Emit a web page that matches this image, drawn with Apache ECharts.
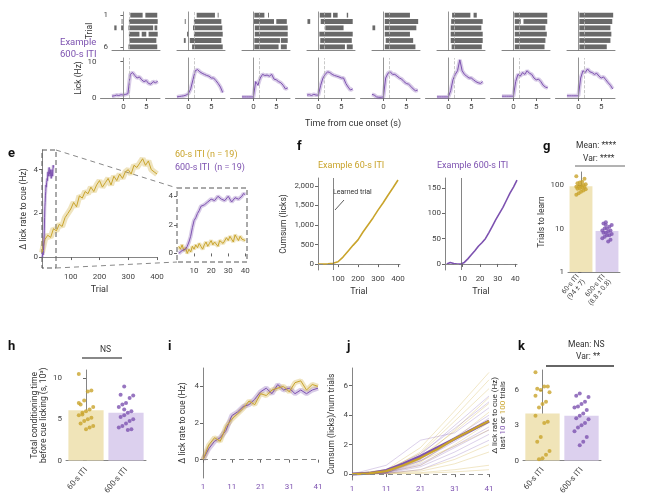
<!DOCTYPE html>
<html><head><meta charset="utf-8">
<script src="https://cdn.jsdelivr.net/npm/echarts@6/dist/echarts.min.js"></script>
<style>html,body{margin:0;background:#fff}#c{width:649px;height:497px}</style>
</head><body><div id="c"></div>
<script>
var GOLD = '#c9a42c', PURP = '#7d52b0', LGOLD = '#f0e4b8', LPURP = '#dcd0ee';

// top row: lick rasters (segments [start, end] per trial row) and mean lick rate
var rasterData = [
  [[[1.5,4.2],[4.8,7.4]], [[-0.4,-0.2],[1.2,7.5]], [[-2,-1.5],[-0.5,0],[1.1,6.5],[6.8,7.4]], [[1.2,3.5],[4,5],[5.5,7.5]], [[1.3,7.2]], [[1.1,7.4]]],
  [[[1.8,5.8],[6.4,6.6]], [[-0.8,-0.6],[1.2,7.2]], [[1,7.4]], [[-0.3,0],[1.2,7.5]], [[-1,-0.6],[0.3,7.2]], [[0.8,7.5]]],
  [[[0.2,2.4],[3.2,3.4]], [[0.1,4.5],[5,7.3]], [[0.3,7.5]], [[0.3,7.5]], [[0.2,5.8],[6,7.5]], [[0.2,5.5],[6,7.3]]],
  [[[0.3,2.8],[3.2,4.2],[6.2,6.5]], [[-2.4,-1.8],[0.5,7.5]], [[1.5,5.5]], [[0.2,7.5]], [[0.4,7.3]], [[0.3,5.8],[6.2,7.5]]],
  [[[0.3,5.8]], [[0.3,7.6]], [[-2.4,-1.8],[0.3,7.2]], [[0.3,5.8]], [[0.5,6.5]], [[0.3,7.0]]],
  [[[0.8,4.8],[5.5,6.2]], [[0.6,7.5]], [[0.5,7.2]], [[0.5,7.5]], [[0.5,7.5]], [[0.7,7.3]]],
  [[[0.2,7.4]], [[0.3,1.6],[2.2,7.4]], [[0.3,7.0]], [[0.3,7.3]], [[0.3,7.0]], [[0.3,6.8]]],
  [[[0.2,7.6]], [[0.2,7.4]], [[0.2,7.0]], [[0.2,7.2]], [[0.2,7.0]], [[0.2,6.2]]]
];
var lickTime = [-2.5,-2,-1.5,-1,-0.5,0,0.5,1,1.5,2,2.5,3,3.5,4,4.5,5,5.5,6,6.5,7,7.5];
var lickRates = [
  [0.5,0.6,0.8,0.7,0.9,0.8,1.0,1.2,6.5,7.0,6.2,5.5,5.8,5.0,4.5,4.8,4.0,3.8,4.5,4.2,4.6],
  [0.3,0.4,0.5,0.6,0.8,1.2,2.5,5.0,7.5,7.8,7.2,6.8,6.5,6.2,6.0,5.5,5.5,4.8,4.0,3.0,1.5],
  [0.3,0.3,0.3,0.3,0.3,0.3,4.5,3.5,5.5,6.5,6.2,6.3,6.0,6.5,5.2,5.0,4.5,4.2,3.5,2.5,2.8],
  [0.8,0.9,0.7,1.0,0.8,0.8,3.5,5.5,6.5,7.2,7.0,6.5,6.2,6.0,5.8,5.5,5.5,4.0,3.0,2.2,2.5],
  [1.0,0.8,0.3,0.2,0.2,0.3,5.5,6.8,7.2,6.5,6.5,6.0,5.5,5.2,4.5,4.0,3.8,3.2,2.5,2.0,2.2],
  [0.3,0.3,0.3,0.3,0.3,0.3,2.0,5.0,6.5,7.5,10.5,7.5,6.5,6.0,5.5,5.5,5.0,4.5,4.2,4.0,4.5],
  [0.5,0.5,0.5,0.5,0.5,0.5,4.5,6.5,6.0,7.0,6.5,7.5,6.8,6.5,5.5,5.0,5.2,4.5,3.5,3.0,2.8],
  [0.6,0.6,0.6,0.6,0.6,0.6,5.5,7.5,7.0,8.0,7.2,7.0,6.5,6.8,6.0,5.5,5.8,5.0,4.2,3.5,2.5]
];

// e: lick rate across training
var eTrials = [0,10,20,30,40,50,60,70,80,90,100,110,120,130,140,150,160,170,180,190,200,210,220,230,240,250,260,270,280,290,300,310,320,330,340,350,360,370,380,390,400];
var eGold = [0.2,0.8,1.0,0.9,1.3,1.2,1.5,1.4,1.8,2.0,2.2,2.5,2.3,2.8,2.7,3.0,2.9,3.2,3.0,3.3,3.5,3.2,3.4,3.6,3.3,3.7,3.5,3.8,3.6,3.9,4.0,3.8,4.2,4.1,4.3,4.5,4.2,4.4,4.0,3.9,3.8];
var insetTrials = [1,2,3,4,5,6,7,8,9,10,11,12,13,14,15,16,17,18,19,20,21,22,23,24,25,26,27,28,29,30,31,32,33,34,35,36,37,38,39,40];
var insetPurp = [0,0.1,0.2,0.1,0.3,0.5,0.8,1.2,1.8,2.3,2.5,2.8,3.0,3.3,3.2,3.4,3.5,3.6,3.5,3.8,3.9,3.7,3.8,4.0,4.1,3.8,3.9,3.7,3.8,4.0,3.9,3.6,3.7,3.9,4.0,3.8,3.7,4.0,4.2,4.1];
var insetGold = [0.5,0.3,0.6,0.2,0.4,0.0,0.3,0.1,0.5,0.3,0.6,0.4,0.7,0.5,0.3,0.6,0.8,0.5,0.7,0.9,0.6,0.8,0.7,0.5,0.9,1.0,0.7,0.8,1.1,0.9,1.2,1.0,0.8,1.3,1.1,0.9,1.2,1.0,1.1,0.9];

// f: example cumulative licks
var f1Trials = [0,25,50,75,100,125,150,175,200,225,250,275,300,325,350,375,400];
var f1Cum = [0,5,10,20,60,180,330,480,620,820,1000,1180,1380,1560,1760,1950,2150];
var f2Trials = [1,3,5,7,9,11,13,15,17,19,21,23,25,27,29,31,33,35,37,39,41];
var f2Cum = [0,3,1,0,0,3,10,18,26,35,42,50,62,75,88,100,112,126,140,152,166];

// g, h, k: per-animal values
var groups = ['60-s ITI\n(94 ± 7)', '600-s ITI\n(8.8 ± 0.8)'];
var gMeans = [94, 8.8];
var gGold = [160,140,120,115,110,105,100,98,95,92,90,88,85,82,80,75,70,65,60];
var gPurp = [14,13,12,11,10,10,9,9,8.5,8,8,7.5,7,7,6.5,6,5.5,5,12];
var hMeans = [6.1, 5.8];
var hGold = [10.5,8.5,8.4,7.3,6.8,6.5,6.2,6.0,5.8,5.5,5.2,5.0,4.8,4.5,4.2,4.0,3.8,5.6,7.0];
var hPurp = [9.0,8.0,7.9,7.6,7.0,6.8,6.5,6.0,5.8,5.5,5.3,5.0,4.8,4.5,4.2,4.0,3.8,3.7,6.2];
var kMeans = [4.0, 3.8];
var kGold = [7.5,6.3,6.3,6.0,6.1,5.8,5.0,4.8,4.5,3.8,3.3,3.2,2.0,1.6,0.8,0.5,0.2,0.1,5.5];
var kPurp = [5.7,5.5,5.4,5.0,4.8,4.6,4.5,4.3,4.0,3.8,3.6,3.5,3.2,3.0,2.8,2.5,2.0,1.6,1.3];

// i: lick rate aligned to learned trial
var iTrials = [1,3,5,7,9,11,13,15,17,19,21,23,25,27,29,31,33,35,37,39,41];
var iGold = [0,0.8,1.2,1.0,1.8,2.2,2.5,2.8,3.2,3.0,3.6,3.5,3.8,3.9,4.0,3.7,4.2,4.3,3.8,4.1,4.0];
var iPurp = [0,0.6,1.0,1.2,1.6,2.4,2.6,2.9,3.0,3.3,3.7,3.9,3.6,4.1,3.8,3.9,3.6,3.8,3.6,3.8,3.9];

// j: normalised cumsum, mean and individual animals
var jTrials = [1,6,11,16,21,26,31,36,41];
var jGoldMean = [0,0.05,0.2,0.6,1.1,1.7,2.4,3.0,3.6];
var jPurpMean = [0,0.05,0.25,0.7,1.2,1.8,2.4,3.0,3.6];
var jIndTrials = [1,11,21,31,41];
var jGoldInd = [[0,0.3,1.8,4.3,6.9],[0,0.2,1.5,3.9,6.4],[0,0.3,1.4,3.6,5.8],[0,0.1,1.0,3.0,5.2],[0,0.2,1.2,2.9,4.8],[0,0.1,0.8,2.4,4.2],[0,0.1,0.6,2.0,3.5],[0,0.05,0.3,1.0,2.0],[0,0.05,0.2,0.7,1.5],[0,0.05,0.1,0.3,0.6],[0,0.02,0.05,0.15,0.3],[0,0.2,0.9,1.9,3.0]];
var jPurpInd = [[0,0.2,1.3,3.3,5.3],[0,0.6,2.3,2.8,4.5],[0,0.1,1.0,2.5,4.0],[0,0.1,0.9,2.2,3.6],[0,0.1,0.7,1.9,3.2],[0,0.1,0.6,1.8,3.0],[0,0.05,0.5,1.5,2.7],[0,0.05,0.3,1.2,2.3],[0,0.2,1.4,3.1,4.9],[0,0.1,0.9,2.3,3.8]];

var grids = [], xAxis = [], yAxis = [], series = [];
var lab = {fontSize: 8, color: '#444', fontFamily: 'Roboto'};
var axLine = {lineStyle: {color: '#666', width: 0.8}};
function addGrid(l, t, w, h, xa, ya) {
  var i = grids.length;
  grids.push({left: l, top: t, width: w, height: h});
  xa.gridIndex = i; ya.gridIndex = i;
  xa.axisLine = xa.axisLine || axLine; ya.axisLine = ya.axisLine || axLine;
  xa.axisTick = xa.axisTick || {length: 3, lineStyle: {color: '#666'}};
  ya.axisTick = ya.axisTick || {length: 3, lineStyle: {color: '#666'}};
  xa.axisLabel = Object.assign({}, lab, {margin: 5}, xa.axisLabel || {});
  ya.axisLabel = Object.assign({}, lab, {margin: 4}, ya.axisLabel || {});
  xa.splitLine = {show: false}; ya.splitLine = {show: false};
  xa.nameTextStyle = Object.assign({fontSize: 9, color: '#333'}, xa.nameTextStyle || {});
  ya.nameTextStyle = Object.assign({fontSize: 8.5, color: '#333'}, ya.nameTextStyle || {});
  xAxis.push(xa); yAxis.push(ya);
  return i;
}
function pairs(xs, ys) { return xs.map(function (x, k) { return [x, ys[k]]; }); }
function trace(gi, xs, ys, color, band) {
  series.push({type: 'line', xAxisIndex: gi, yAxisIndex: gi, data: pairs(xs, ys), symbol: 'none',
    lineStyle: {color: color, width: band, opacity: 0.3}, silent: true, z: 2});
  series.push({type: 'line', xAxisIndex: gi, yAxisIndex: gi, data: pairs(xs, ys), symbol: 'none',
    lineStyle: {color: color, width: 1}, silent: true, z: 3});
}
function vline(gi, x, color, type) {
  series.push({type: 'line', xAxisIndex: gi, yAxisIndex: gi, data: [], markLine: {silent: true, symbol: 'none', label: {show: false},
    lineStyle: {color: color, width: 0.8, type: type}, data: [{xAxis: x}]}});
}
function hline(gi, y) {
  series.push({type: 'line', xAxisIndex: gi, yAxisIndex: gi, data: [], markLine: {silent: true, symbol: 'none', label: {show: false},
    lineStyle: {color: '#888', width: 1, type: [5, 4]}, data: [{yAxis: y}]}});
}
function ticks(vals) { return {customValues: vals, length: 3, lineStyle: {color: '#666'}}; }

// top row
for (var p = 0; p < 8; p++) {
  var left = 112 + 65 * p;
  var rg = addGrid(left, 12, 48, 38,
    {type: 'value', min: -2.5, max: 8, axisLabel: {show: false}, axisTick: {show: false}},
    {type: 'value', min: 0.5, max: 6.5, inverse: true, axisLabel: {show: p === 0, customValues: [1, 6]},
     axisTick: p === 0 ? ticks([1, 6]) : {show: false}, name: p === 0 ? 'Trial' : '', nameLocation: 'middle', nameGap: 18});
  var segs = [];
  rasterData[p].forEach(function (row, r) { row.forEach(function (s) { segs.push([s[0], s[1], r + 1]); }); });
  series.push({type: 'custom', xAxisIndex: rg, yAxisIndex: rg, data: segs, silent: true,
    renderItem: function (params, api) {
      var a = api.coord([api.value(0), api.value(2)]), b = api.coord([api.value(1), api.value(2)]);
      return {type: 'rect', shape: {x: a[0], y: a[1] - 2.4, width: b[0] - a[0], height: 4.8}, style: {fill: '#444', opacity: 0.8}};
    }});
  vline(rg, 0, '#999', 'solid'); vline(rg, 1.25, '#bbb', 'dashed');
  var lg = addGrid(left - 11.5, 58, 59.5, 40,
    {type: 'value', min: -5, max: 8, axisLabel: {customValues: [0, 5]}, axisTick: ticks([0, 5])},
    {type: 'value', min: 0, max: 11, interval: 10, axisLabel: {show: p === 0}, axisTick: {show: p === 0, length: 3},
     name: p === 0 ? 'Lick (Hz)' : '', nameLocation: 'middle', nameGap: 16});
  vline(lg, 0, '#999', 'solid'); vline(lg, 1.25, '#bbb', 'dashed');
  trace(lg, lickTime, lickRates[p], PURP, 4);
}

// e main
var eg = addGrid(42, 150, 115, 118,
  {type: 'value', min: 0, max: 400, axisLabel: {customValues: [100, 200, 300, 400]}, axisTick: ticks([100, 200, 300, 400]),
   name: 'Trial', nameLocation: 'middle', nameGap: 17},
  {type: 'value', min: -0.5, max: 4.9, axisLabel: {customValues: [0, 2, 4]}, axisTick: ticks([0, 2, 4]),
   name: 'Δ lick rate to cue (Hz)', nameLocation: 'middle', nameGap: 14});
trace(eg, eTrials, eGold, GOLD, 6);
trace(eg, insetTrials, insetPurp, PURP, 3);
// e inset
var ig = addGrid(177, 182, 70, 80,
  {type: 'value', min: 0, max: 41, axisLine: {show: false}, axisLabel: {customValues: [10, 20, 30, 40]}, axisTick: ticks([10, 20, 30, 40])},
  {type: 'value', min: -0.6, max: 5, axisLine: {show: false}, axisLabel: {customValues: [0, 2, 4]}, axisTick: ticks([0, 2, 4])});
trace(ig, insetTrials, insetGold, GOLD, 4);
trace(ig, insetTrials, insetPurp, PURP, 4);

// f1, f2
var f1 = addGrid(318, 178, 82, 92,
  {type: 'value', min: 0, max: 410, axisLabel: {customValues: [100, 200, 300, 400]}, axisTick: ticks([100, 200, 300, 400]),
   name: 'Trial', nameLocation: 'middle', nameGap: 17},
  {type: 'value', min: -150, max: 2200, name: 'Cumsum (licks)', nameLocation: 'middle', nameGap: 30,
   axisLabel: {customValues: [0, 500, 1000, 1500, 2000], formatter: function (v) { return Number(v).toLocaleString('en-US'); }},
   axisTick: ticks([0, 500, 1000, 1500, 2000])});
hline(f1, 0); vline(f1, 75, '#666', 'solid');
series.push({type: 'line', xAxisIndex: f1, yAxisIndex: f1, data: pairs(f1Trials, f1Cum), symbol: 'none', lineStyle: {color: GOLD, width: 1.6}});
var f2 = addGrid(445, 178, 72, 92,
  {type: 'value', min: 0, max: 41, axisLabel: {customValues: [10, 20, 30, 40]}, axisTick: ticks([10, 20, 30, 40]),
   name: 'Trial', nameLocation: 'middle', nameGap: 17},
  {type: 'value', min: -12, max: 170, axisLabel: {customValues: [0, 50, 100, 150]}, axisTick: ticks([0, 50, 100, 150])});
hline(f2, 0); vline(f2, 9, '#666', 'solid');
series.push({type: 'line', xAxisIndex: f2, yAxisIndex: f2, data: pairs(f2Trials, f2Cum), symbol: 'none', lineStyle: {color: PURP, width: 1.6}});

function jit(i) { return ((i * 7) % 9 - 4) * 0.045; }
function barPanel(gi, means, gold, purp) {
  series.push({type: 'bar', xAxisIndex: gi, yAxisIndex: gi, barWidth: '88%', silent: true,
    data: [{value: [0, means[0]], itemStyle: {color: LGOLD}}, {value: [1, means[1]], itemStyle: {color: LPURP}}]});
  series.push({type: 'scatter', xAxisIndex: gi, yAxisIndex: gi, symbolSize: 4, itemStyle: {color: GOLD},
    data: gold.map(function (v, i) { return [jit(i), v]; })});
  series.push({type: 'scatter', xAxisIndex: gi, yAxisIndex: gi, symbolSize: 4, itemStyle: {color: PURP},
    data: purp.map(function (v, i) { return [1 + jit(i + 3), v]; })});
}
function groupAxis(names, extra) {
  return {type: 'value', min: -0.5, max: 1.5, axisTick: {show: false},
    axisLabel: Object.assign({customValues: [0, 1], rotate: 50, margin: 8, formatter: function (v) { return names[Math.round(v)]; }}, extra || {})};
}

// g
var gg = addGrid(568, 172, 52, 100,
  groupAxis(groups, {fontSize: 7, lineHeight: 8, margin: 6}),
  {type: 'log', min: 1, max: 200, logBase: 10, name: 'Trials to learn', nameLocation: 'middle', nameGap: 18,
   axisLabel: {customValues: [1, 10, 100]}, axisTick: ticks([1, 10, 100])});
barPanel(gg, gMeans, gGold, gPurp);

// h
var hg = addGrid(66, 370, 80, 108,
  groupAxis(['60-s ITI', '600-s ITI']),
  {type: 'value', min: 0, max: 11, axisLabel: {customValues: [0, 5, 10]}, axisTick: ticks([0, 5, 10]),
   name: 'Total conditioning time\nbefore cue licking (s, 10³)', nameLocation: 'middle', nameGap: 18});
barPanel(hg, hMeans, hGold, hPurp);

// i
var ig2 = addGrid(203, 368, 115, 110,
  {type: 'value', min: 1, max: 41, interval: 10, axisLine: {show: false}, axisLabel: {color: PURP}},
  {type: 'value', min: -1, max: 5, name: 'Δ lick rate to cue (Hz)', nameLocation: 'middle', nameGap: 16,
   axisLabel: {customValues: [0, 2, 4]}, axisTick: ticks([0, 2, 4])});
hline(ig2, 0);
trace(ig2, iTrials, iPurp, PURP, 5);
trace(ig2, iTrials, iGold, GOLD, 5);

// j
var jg = addGrid(352, 368, 137, 112,
  {type: 'value', min: 1, max: 41, interval: 10, axisLine: {show: false}, axisLabel: {color: PURP}},
  {type: 'value', min: -0.4, max: 7.2, name: 'Cumsum (licks)/num trials', nameLocation: 'middle', nameGap: 16,
   axisLabel: {customValues: [0, 2, 4, 6]}, axisTick: ticks([0, 2, 4, 6])});
hline(jg, 0);
jGoldInd.forEach(function (ys) { series.push({type: 'line', xAxisIndex: jg, yAxisIndex: jg, data: pairs(jIndTrials, ys), symbol: 'none', silent: true, lineStyle: {color: GOLD, width: 0.6, opacity: 0.45}}); });
jPurpInd.forEach(function (ys) { series.push({type: 'line', xAxisIndex: jg, yAxisIndex: jg, data: pairs(jIndTrials, ys), symbol: 'none', silent: true, lineStyle: {color: PURP, width: 0.6, opacity: 0.45}}); });
series.push({type: 'line', xAxisIndex: jg, yAxisIndex: jg, data: pairs(jTrials, jPurpMean), symbol: 'none', lineStyle: {color: PURP, width: 3}});
series.push({type: 'line', xAxisIndex: jg, yAxisIndex: jg, data: pairs(jTrials, jGoldMean), symbol: 'none', lineStyle: {color: GOLD, width: 2.2}});

// k
var kg = addGrid(523, 370, 78, 108,
  groupAxis(['60-s ITI', '600-s ITI']),
  {type: 'value', min: 0, max: 7.7, axisLabel: {customValues: [0, 3, 6]}, axisTick: ticks([0, 3, 6]),
   name: '{b|Δ lick rate to cue (Hz)}\n{b|last }{p|10}{b| or }{g|100}{b| trials}', nameLocation: 'middle', nameGap: 16,
   nameTextStyle: {rich: {b: {fontSize: 8, color: '#333'}, p: {fontSize: 8, color: PURP}, g: {fontSize: 8, color: GOLD}}}});
barPanel(kg, kMeans, kGold, kPurp);

function T(x, y, s, o) { return {type: 'text', x: x, y: y, style: Object.assign({text: s, fontSize: 9, fill: '#333', fontFamily: 'Roboto'}, o || {})}; }
function L(x1, y1, x2, y2, c, w, dash) { return {type: 'line', shape: {x1: x1, y1: y1, x2: x2, y2: y2}, style: {stroke: c || '#555', lineWidth: w || 1, lineDash: dash || null}}; }
var gfx = [
  T(60, 38, 'Example', {fill: PURP, fontSize: 9.5}), T(60, 50, '600-s ITI', {fill: PURP, fontSize: 9.5}),
  T(305, 119, 'Time from cue onset (s)', {fontSize: 9}),
  T(8, 147, 'e', {fontSize: 13, fontWeight: 'bold', fill: '#111'}),
  T(297, 140, 'f', {fontSize: 13, fontWeight: 'bold', fill: '#111'}),
  T(543, 140, 'g', {fontSize: 13, fontWeight: 'bold', fill: '#111'}),
  T(8, 340, 'h', {fontSize: 13, fontWeight: 'bold', fill: '#111'}),
  T(168, 340, 'i', {fontSize: 13, fontWeight: 'bold', fill: '#111'}),
  T(347, 340, 'j', {fontSize: 13, fontWeight: 'bold', fill: '#111'}),
  T(518, 340, 'k', {fontSize: 13, fontWeight: 'bold', fill: '#111'}),
  T(175, 150, '60-s ITI (n = 19)', {fill: GOLD, fontSize: 9}),
  T(175, 163, '600-s ITI  (n = 19)', {fill: PURP, fontSize: 9}),
  T(318, 161, 'Example 60-s ITI', {fill: GOLD, fontSize: 9}),
  T(437, 161, 'Example 600-s ITI', {fill: PURP, fontSize: 9}),
  T(333, 189, 'Learned trial', {fontSize: 7}),
  L(344, 200, 335, 210, '#333', 0.8),
  T(576, 141, 'Mean: ****', {fontSize: 8.5}), T(583, 154, 'Var: ****', {fontSize: 8.5}),
  L(575, 166, 625, 166, '#666', 1),
  T(100, 345, 'NS', {fontSize: 8.5}), L(82, 358, 122, 358, '#888', 2),
  T(568, 340, 'Mean: NS', {fontSize: 8.5}), T(576, 352, 'Var: **', {fontSize: 8.5}), L(546, 366, 614, 366, '#666', 2),
  // e zoom box and guides
  {type: 'rect', shape: {x: 42, y: 150, width: 14, height: 118}, style: {fill: 'none', stroke: '#555', lineWidth: 1, lineDash: [5, 3]}},
  {type: 'rect', shape: {x: 177, y: 188, width: 70, height: 74}, style: {fill: 'none', stroke: '#555', lineWidth: 1, lineDash: [5, 3]}},
  L(56, 150, 177, 188, '#888', 1, [5, 4]), L(56, 268, 177, 262, '#888', 1, [5, 4])
];

var chart = echarts.init(document.getElementById('c'));
chart.setOption({animation: false, grid: grids, xAxis: xAxis, yAxis: yAxis, series: series, graphic: gfx,
  textStyle: {fontFamily: 'Roboto'}});
</script>
</body></html>
